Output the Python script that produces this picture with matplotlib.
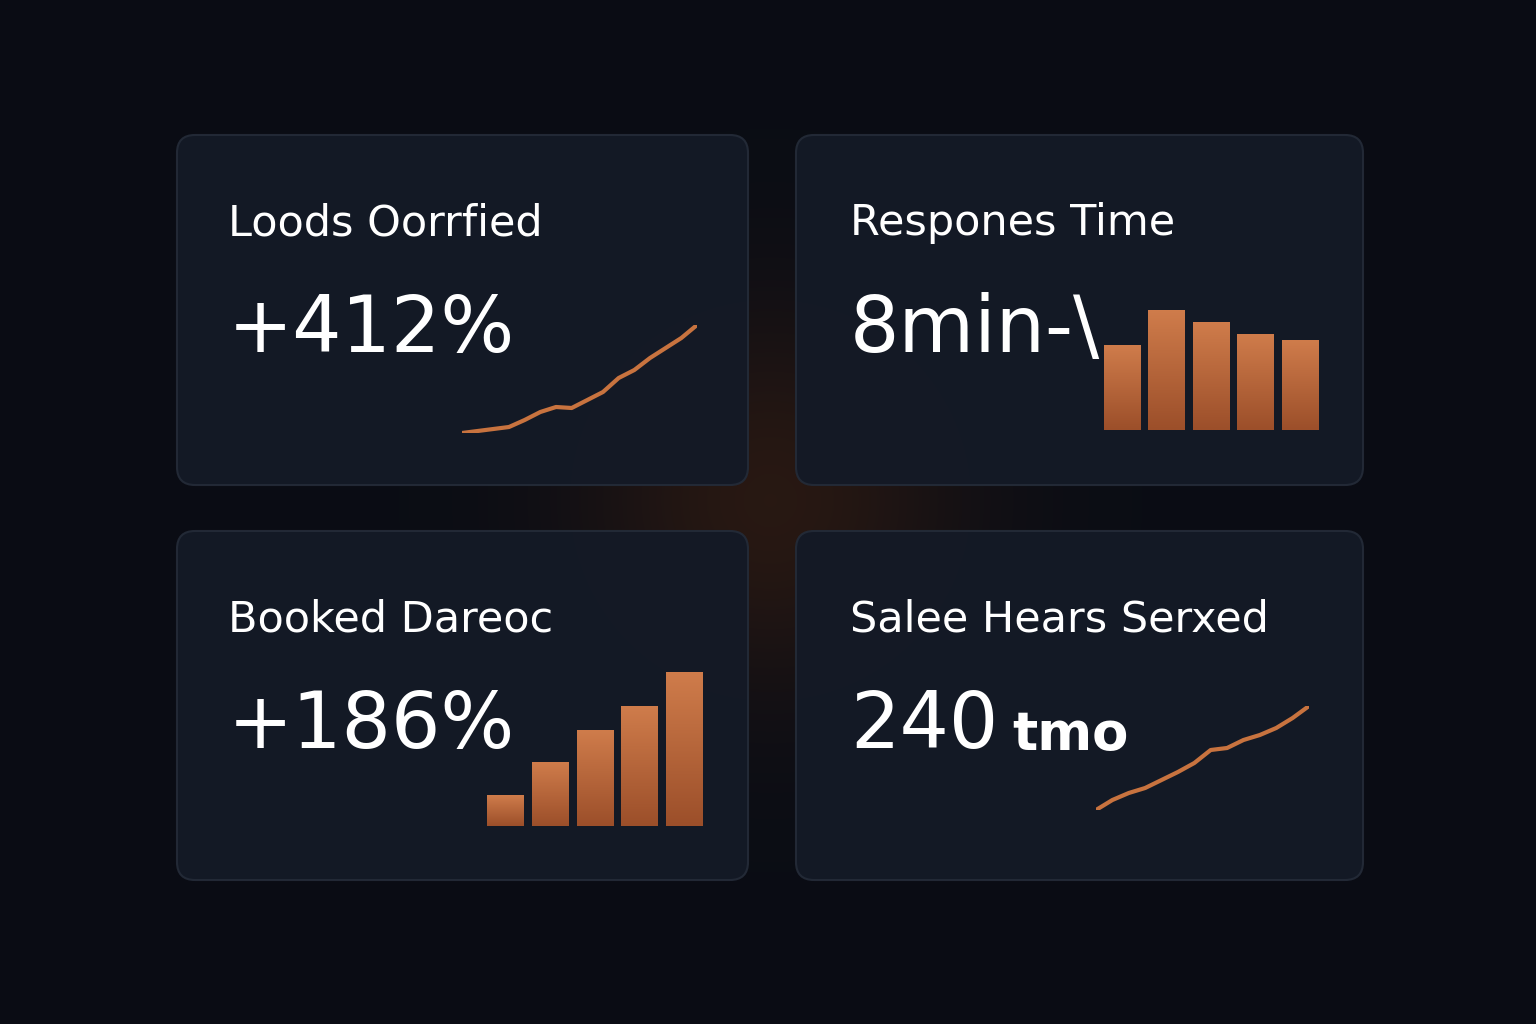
import numpy as np
import matplotlib
matplotlib.use("Agg")
import matplotlib.pyplot as plt
from matplotlib.patches import FancyBboxPatch

W, H = 1536, 1024

# data
titles = ["Loods Oorrfied", "Respones Time", "Booked Dareoc", "Salee Hears Serxed"]
values = ["+412%", "8min-\\", "+186%", "240"]
line_a = [0, 2, 4, 6, 13, 21, 26, 25, 33, 41, 55, 63, 75, 85, 95, 108]
bars_b = [85, 120, 108, 96, 90]
bars_c = [31, 64, 96, 120, 154]
line_d = [0, 10, 17, 22, 30, 38, 47, 60, 62, 70, 75, 82, 92, 104]

ORANGE = "#c8733f"


def fx(px):
    return px / W


def fy(py):
    return 1 - py / H


fig = plt.figure(figsize=(W / 100, H / 100), dpi=100)
bg = fig.add_axes([0, 0, 1, 1])
bg.set_xlim(0, W)
bg.set_ylim(H, 0)
bg.axis("off")

# background with faint warm glow in the middle
yy, xx = np.mgrid[0:H, 0:W]
r = np.sqrt((xx - 770) ** 2 + (yy - 500) ** 2)
glow = np.exp(-(r / 190) ** 2)
base = np.array([0.040, 0.050, 0.082])
warm = np.array([0.30, 0.15, 0.06])
img = base[None, None, :] + glow[..., None] * (warm - base)[None, None, :] * 0.45
bg.imshow(img, extent=[0, W, H, 0], zorder=0)

cards = [(177, 135, 748, 485), (796, 135, 1363, 485),
         (177, 531, 748, 880), (796, 531, 1363, 880)]
for (x0, y0, x1, y1) in cards:
    bg.add_patch(FancyBboxPatch((x0, y0), x1 - x0, y1 - y0,
                                boxstyle="round,pad=0,rounding_size=18",
                                fc="#141a26", ec="#232a37", lw=1.5, alpha=0.97, zorder=1))

for i, (x0, y0, x1, y1) in enumerate(cards):
    tx = 228 if i % 2 == 0 else 850
    bg.text(tx, y0 + 88, titles[i], color="white", fontsize=31, va="center", zorder=3)
    bg.text(tx, y0 + 195, values[i], color="white", fontsize=56, va="center", zorder=3)
bg.text(1012, 735, "tmo", color="white", fontsize=38, fontweight="bold", va="center", zorder=3)


def line_ax(x0, y0, x1, y1, data):
    ax = fig.add_axes([fx(x0), fy(y1), fx(x1 - x0), (y1 - y0) / H])
    ax.plot(range(len(data)), data, color=ORANGE, lw=3, solid_capstyle="round")
    ax.set_xlim(0, len(data) - 1)
    ax.set_ylim(0, max(data))
    ax.axis("off")


def bar_ax(x0, y0, x1, y1, data, top):
    ax = fig.add_axes([fx(x0), fy(y1), fx(x1 - x0), (y1 - y0) / H])
    bars = ax.bar(range(len(data)), data, width=0.82, color=ORANGE)
    ax.set_xlim(-0.41, len(data) - 0.59)
    ax.set_ylim(0, top)
    grad = np.linspace(1, 0, 100)[:, None]
    cmap = matplotlib.colors.LinearSegmentedColormap.from_list("g", ["#9c4f2a", "#cf7c4b"])
    for b in bars:
        im = ax.imshow(grad, extent=[b.get_x(), b.get_x() + b.get_width(), 0, b.get_height()],
                       aspect="auto", cmap=cmap, zorder=2)
        im.set_clip_path(b)
    ax.axis("off")


line_ax(462, 325, 697, 433, line_a)
bar_ax(1104, 300, 1318, 430, bars_b, 130)
bar_ax(487, 672, 703, 826, bars_c, 154)
line_ax(1096, 706, 1309, 810, line_d)

fig.savefig("out.png", dpi=100)
